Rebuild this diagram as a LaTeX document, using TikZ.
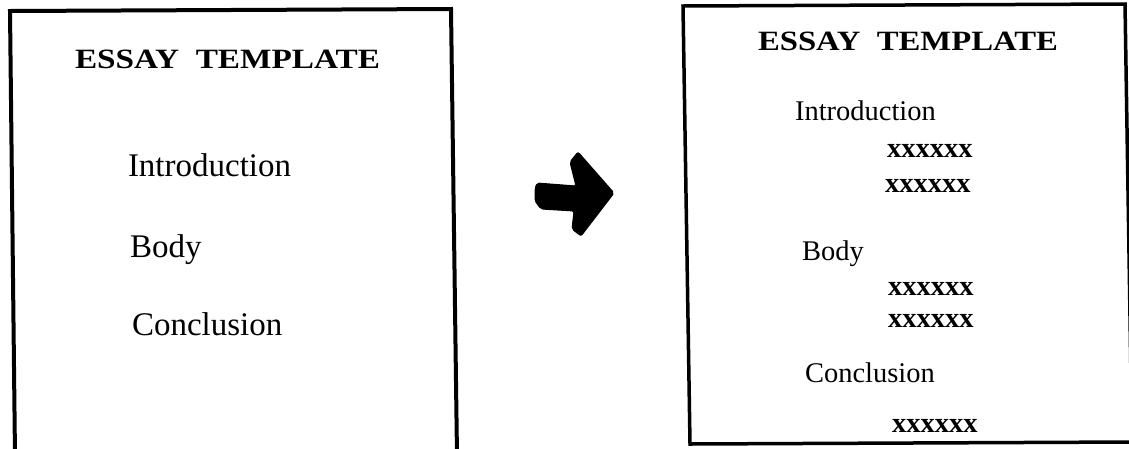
\documentclass[tikz,border=0pt]{standalone}
\usepackage{fontspec}
\usepackage{graphicx}
\setmainfont{Liberation Serif}

\tikzset{
  frame/.style={line width=4pt, line join=miter},
  heading/.style={anchor=base west, inner sep=0pt, outer sep=0pt},
  bigitem/.style={anchor=base west, inner sep=0pt, outer sep=0pt,
                  font=\fontsize{33}{36}\selectfont},
  item/.style={anchor=base west, inner sep=0pt, outer sep=0pt,
               font=\fontsize{28.5}{32}\selectfont},
  filler/.style={anchor=base west, inner sep=0pt, outer sep=0pt,
                 font=\fontsize{28.5}{32}\selectfont\bfseries},
  bigarrow/.style={fill=black, draw=black, line width=1pt,
                   rounded corners=2pt},
}

% Title set wide, the way it is on the typed template pages
\newcommand{\templatetitle}[1]{\resizebox{#1}{18.5pt}{\bfseries ESSAY\hspace{0.5em}TEMPLATE}}

\begin{document}
\begin{tikzpicture}[x=1pt, y=-1pt]
  \useasboundingbox (0,0) rectangle (1129,448);

  % ---- empty template (open at the bottom) ----
  \coordinate (ebl) at (15,456);
  \coordinate (etl) at (10,11);
  \coordinate (etr) at (451,9);
  \coordinate (ebr) at (457,456);
  \draw[frame] (ebl) -- (etl) -- (etr) -- (ebr);

  \node[heading] (etitle) at (75,68) {\templatetitle{305pt}};
  \node[bigitem] (eintro) at (128,176) {Introduction};
  \node[bigitem] (ebody)  at (130,257) {Body};
  \node[bigitem] (econc)  at (132,335) {Conclusion};

  % ---- arrow between the two pages ----
  \draw[bigarrow] (537,183) -- (576,186) -- (570,162) -- (578,152)
        -- (614,193) -- (581,236) -- (572,229) -- (574,211)
        -- (541,209) -- (535,201) -- (535,189) -- cycle;

  % ---- filled-in template ----
  \coordinate (ftl) at (683,6);
  \coordinate (ftr) at (1125,4);
  \coordinate (fbr) at (1132,442);
  \coordinate (fbl) at (690,444);
  \draw[frame, line width=3.5pt] (ftl) -- (ftr) -- (fbr) -- (fbl) -- cycle;

  \node[heading] (ftitle) at (758,50) {\templatetitle{300pt}};
  \node[item]   (fintro) at (795,120) {Introduction};
  \node[filler] (fx1)    at (887,157) {xxxxxx};
  \node[filler] (fx2)    at (885,192) {xxxxxx};
  \node[item]   (fbody)  at (802,260) {Body};
  \node[filler] (fx3)    at (888,295) {xxxxxx};
  \node[filler] (fx4)    at (888,327) {xxxxxx};
  \node[item]   (fconc)  at (805,382) {Conclusion};
  \node[filler] (fx5)    at (892,432) {xxxxxx};
\end{tikzpicture}
\end{document}
